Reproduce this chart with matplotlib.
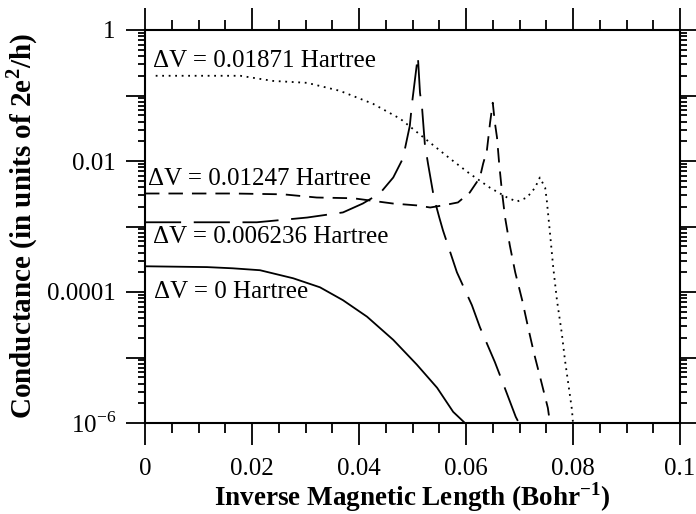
import matplotlib
matplotlib.use("Agg")
import matplotlib.pyplot as plt
from matplotlib.ticker import FixedLocator, LogLocator, NullFormatter

plt.rcParams["font.family"] = ["Liberation Serif", "DejaVu Serif"]
plt.rcParams["mathtext.fontset"] = "custom"
plt.rcParams["mathtext.rm"] = "Liberation Serif"
plt.rcParams["mathtext.bf"] = "Liberation Serif:bold"

# ---- data ----
# dV = 0 Hartree (solid)
x_dv0 = [0.0, 0.0116, 0.0164, 0.0215, 0.0277, 0.0327, 0.037, 0.0415, 0.0464, 0.0508,
         0.0546, 0.0576, 0.0598]
g_dv0 = [2.47e-4, 2.4e-4, 2.3e-4, 2.15e-4, 1.62e-4, 1.18e-4, 7.5e-5, 4.2e-5, 1.86e-5, 7.8e-6,
         3.45e-6, 1.48e-6, 1.0e-6]

# dV = 0.006236 Hartree (long dashes)
x_dv1 = [0.0, 0.0209, 0.0265, 0.0303, 0.037, 0.0407, 0.0439, 0.0464, 0.0482, 0.0495,
         0.0499, 0.0510, 0.0514, 0.0518, 0.0523, 0.0529, 0.054, 0.055, 0.0557, 0.0583,
         0.0611, 0.0626, 0.0654, 0.0667, 0.0693, 0.0699]
g_dv1 = [1.16e-3, 1.16e-3, 1.28e-3, 1.37e-3, 1.64e-3, 2.24e-3, 3.2e-3, 5.6e-3, 1.09e-2, 3.46e-2,
         7.48e-2, 0.40, 0.11, 6.3e-2, 1.84e-2, 9.1e-3, 2.77e-3, 1.38e-3, 8.7e-4, 2.0e-4,
         6.3e-5, 2.9e-5, 8.5e-6, 4.5e-6, 1.24e-6, 1.0e-6]

# dV = 0.01247 Hartree (short dashes)
x_dv2 = [0.0, 0.0164, 0.0258, 0.0321, 0.0389, 0.0464, 0.0508, 0.0533, 0.0557, 0.0585,
         0.0607, 0.0626, 0.0632, 0.0639, 0.0645, 0.0650, 0.0654, 0.0658, 0.0662, 0.0667,
         0.0673, 0.0682, 0.0692, 0.0705, 0.0716, 0.0727, 0.074, 0.0753, 0.0757]
g_dv2 = [3.19e-3, 3.19e-3, 3.1e-3, 2.77e-3, 2.7e-3, 2.24e-3, 2.1e-3, 1.95e-3, 2.1e-3, 2.33e-3,
         3.3e-3, 5.6e-3, 9.1e-3, 1.44e-2, 3.84e-2, 7.76e-2, 3.84e-2, 2.27e-2, 9.1e-3, 3.55e-3,
         1.38e-3, 5.1e-4, 2.0e-4, 7.5e-5, 2.9e-5, 1.17e-5, 4.5e-6, 1.7e-6, 1.0e-6]

# dV = 0.01871 Hartree (dotted)
x_dv3 = [0.002, 0.0178, 0.0239, 0.0303, 0.0364, 0.0426, 0.0477, 0.0533, 0.057, 0.0607,
         0.0645, 0.0677, 0.0695, 0.0714, 0.0729, 0.0738, 0.0748, 0.0751, 0.0757, 0.0763,
         0.077, 0.0779, 0.0785, 0.0791, 0.0798, 0.0800]
g_dv3 = [0.20, 0.20, 0.167, 0.156, 0.118, 0.0748, 0.0442, 0.019, 0.0109, 6.4e-3,
         3.9e-3, 2.77e-3, 2.4e-3, 2.77e-3, 3.9e-3, 5.6e-3, 3.9e-3, 2.5e-3, 7.9e-4, 2.4e-4,
         7.5e-5, 2.36e-5, 9.1e-6, 4.1e-6, 1.6e-6, 1.0e-6]

labels = ["\u0394V = 0.01871 Hartree", "\u0394V = 0.01247 Hartree",
          "\u0394V = 0.006236 Hartree", "\u0394V = 0 Hartree"]

x_ticks = [0, 0.02, 0.04, 0.06, 0.08, 0.1]
x_ticklabels = ["0", "0.02", "0.04", "0.06", "0.08", "0.1"]
y_decades = [1e-6, 1e-5, 1e-4, 1e-3, 1e-2, 1e-1, 1]
y_ticklabels = {1e-6: "$10^{-6}$", 1e-4: "0.0001", 1e-2: "0.01", 1: "1"}

# ---- figure ----
fig = plt.figure(figsize=(6.96, 5.14), dpi=100)
ax = fig.add_axes([145 / 696, 1 - 423 / 514, 535 / 696, 393 / 514])

lw = 1.3
ax.plot(x_dv0, g_dv0, color="black", lw=lw)
ax.plot(x_dv1, g_dv1, color="black", lw=lw, dashes=(20, 7))
ax.plot(x_dv2, g_dv2, color="black", lw=lw, dashes=(8, 5))
ax.plot(x_dv3, g_dv3, color="black", lw=lw, dashes=(1, 2.6))

ax.set_yscale("log")
ax.set_xlim(0, 0.1)
ax.set_ylim(1e-6, 1)

ax.xaxis.set_major_locator(FixedLocator(x_ticks))
ax.set_xticklabels(x_ticklabels)
ax.xaxis.set_minor_locator(FixedLocator([i * 0.005 for i in range(21)]))

ax.yaxis.set_major_locator(FixedLocator(y_decades))
ax.set_yticklabels([y_ticklabels.get(v, "") for v in y_decades])
ax.yaxis.set_minor_locator(LogLocator(base=10, subs=range(2, 10), numticks=20))
ax.yaxis.set_minor_formatter(NullFormatter())

ax.tick_params(which="both", direction="out", top=True, right=True, width=1.3)
ax.tick_params(axis="x", which="major", length=16, labelsize=18, pad=9)
ax.tick_params(axis="x", which="minor", length=7)
ax.tick_params(axis="y", which="major", length=14, labelsize=18, pad=7)
ax.tick_params(axis="y", which="minor", length=5)
for sp in ax.spines.values():
    sp.set_linewidth(1.5)

ax.set_xlabel(r"Inverse Magnetic Length (Bohr$^{\mathbf{-1}}$)",
              fontsize=19.5, fontweight="bold", labelpad=0)
ax.set_ylabel(r"Conductance (in units of 2e$^{\mathbf{2}}$/h)",
              fontsize=21, fontweight="bold", labelpad=5)

# curve labels
ax.text(0.0015, 0.337, labels[0], fontsize=18, va="center", ha="left")
ax.text(0.0006, 5.4e-3, labels[1], fontsize=18, va="center", ha="left")
ax.text(0.0015, 6.8e-4, labels[2], fontsize=18, va="center", ha="left")
ax.text(0.0017, 1.0e-4, labels[3], fontsize=18, va="center", ha="left")

fig.savefig("out.png", dpi=100)
